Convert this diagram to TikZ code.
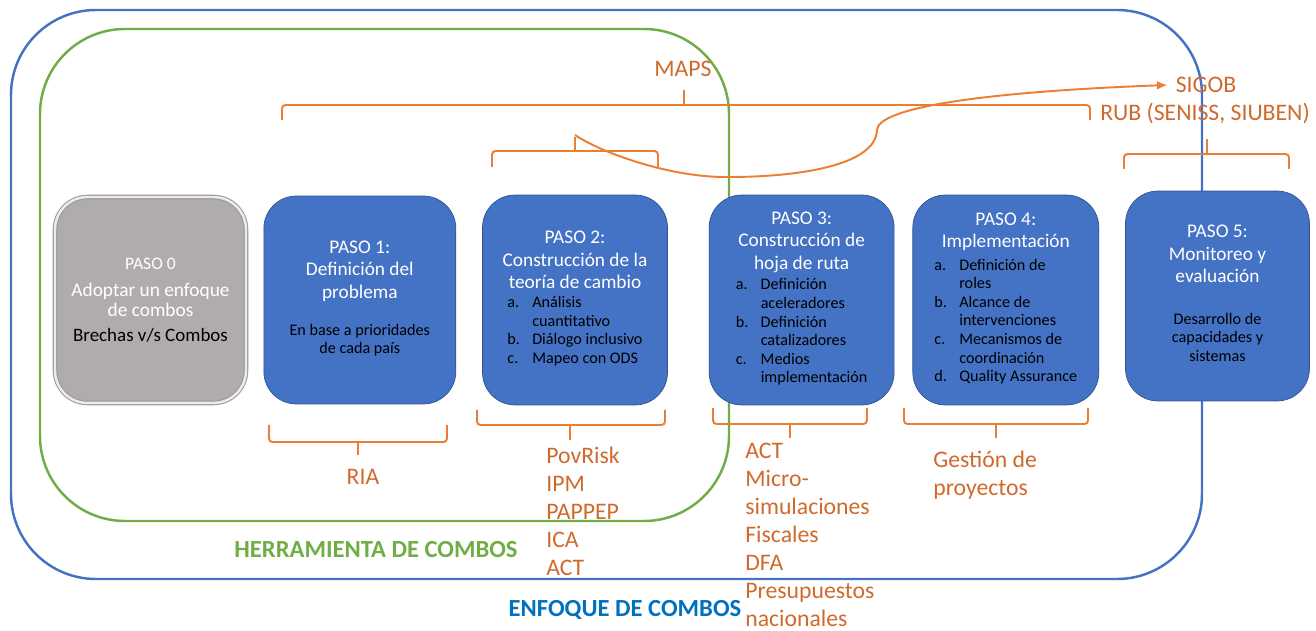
\documentclass[tikz,border=0pt]{standalone}
\usepackage{fontspec}
\setmainfont{Carlito}
\usetikzlibrary{positioning,arrows.meta}
\definecolor{boxblue}{HTML}{4472C4}
\definecolor{boxline}{HTML}{2F528F}
\definecolor{frameblue}{HTML}{4472C4}
\definecolor{framegreen}{HTML}{70AD47}
\definecolor{brline}{HTML}{ED7D31}
\definecolor{brtext}{HTML}{D0692C}
\definecolor{labelblue}{HTML}{0070C0}
\definecolor{stepgray}{HTML}{B0ACAB}
\tikzset{
pasobox/.style={
  rectangle,
  draw=boxline,
  fill=boxblue,
  rounded corners=0.65cm,
  minimum width=3.7cm,
  minimum height=4.2cm,
  align=center,
  text=white,
  font=\fontsize{11}{12.8}\selectfont},
pasogray/.style={
  pasobox,
  fill=stepgray,
  draw=gray!80,
  line width=0.6pt,
  double=gray!15,
  double distance=1.4pt,
  font=\fontsize{10}{11.5}\selectfont},
bracket/.style={draw=brline, line width=1.1pt, rounded corners=2pt},
tool/.style={text=brtext, font=\fontsize{13.5}{15.9}\selectfont, align=left, inner sep=0pt},
frame/.style={draw, line width=1.4pt, rounded corners=1.7cm},
linkcurve/.style={draw=brline, line width=1.1pt, -{Latex[length=6pt,width=5pt]}}
}

\begin{document}
\begin{tikzpicture}[x=0.02cm, y=-0.02cm]
    \useasboundingbox (0,0) rectangle (1316,631);
    \draw[frame, framegreen] (40,29) rectangle (729,521);
    \draw[frame, frameblue] (11,10) rectangle (1202,579);
    \draw[bracket] (269,425) |- (354,442) .. controls (358,442) .. (358,446) -- (358,457) coordinate (t1) -- (358,446) .. controls (358,442) .. (362,442) -| (447,425);
    \draw[bracket] (477,410) |- (566,425) .. controls (570,425) .. (570,429) -- (570,442) coordinate (t2) -- (570,429) .. controls (570,425) .. (574,425) -| (665,410);
    \draw[bracket] (713,408) |- (786,424) .. controls (790,424) .. (790,428) -- (790,440) coordinate (t3) -- (790,428) .. controls (790,424) .. (794,424) -| (867,408);
    \draw[bracket] (904,408) |- (992,424) .. controls (996,424) .. (996,428) -- (996,440) coordinate (t4) -- (996,428) .. controls (996,424) .. (1000,424) -| (1088,408);
    \draw[bracket] (282,120) |- (680,105) .. controls (684,105) .. (684,101) -- (684,88) coordinate (t5) -- (684,101) .. controls (684,105) .. (688,105) -| (1090,120);
    \draw[bracket] (492,167) |- (571,151) .. controls (575,151) .. (575,147) -- (575,135) coordinate (t6) -- (575,147) .. controls (575,151) .. (579,151) -| (658,167);
    \draw[bracket] (1124,169) |- (1203,154) .. controls (1207,154) .. (1207,150) -- (1207,137) coordinate (t7) -- (1207,150) .. controls (1207,154) .. (1211,154) -| (1289,169);
    \node[tool] (maps) at (683,69) {MAPS};
    \node[tool, inner sep=4.5pt] (sigob) at (1206,85) {SIGOB};
    \node[tool] (rub) at (1205,113) {RUB (SENISS, SIUBEN)};
    \draw[linkcurve] (t6) .. controls (600,152) and (670,178) .. (729,177) .. controls (800,177) and (876,165) .. (877,130) .. controls (878,108) and (980,92) .. (sigob.west);
    \node[pasogray, minimum width=3.82cm, minimum height=4.12cm] (p0) at (150.5,300) {PASO 0\\[4pt]\fontsize{11}{12}\selectfont Adoptar un enfoque\\\fontsize{11}{12}\selectfont de combos\\[2.5pt]\color{black}\fontsize{10.8}{12}\selectfont Brechas v/s Combos};
    \node[pasobox, minimum width=3.84cm, minimum height=4.16cm, right=0.34cm of p0] (p1) {PASO 1:\\Definición del\\problema\\[8.5pt]\color{black}\fontsize{9.2}{10.4}\selectfont\begin{tabular}[t]{@{}c@{}}En base a prioridades\\de cada país\end{tabular}};
    \node[pasobox, right=0.52cm of p1] (p2) {PASO 2:\\Construcción de la\\teoría de cambio\\[-2pt]\color{black}\fontsize{9.2}{10.6}\selectfont\begin{tabular}[t]{@{}l@{\hspace{7pt}}l@{}}a.&Análisis\\&cuantitativo\\b.&Diálogo inclusivo\\c.&Mapeo con ODS\end{tabular}};
    \node[pasobox, right=0.82cm of p2] (p3) {PASO 3:\\Construcción de\\hoja de ruta\\[-1pt]\color{black}\fontsize{9.2}{10.6}\selectfont\begin{tabular}[t]{@{}l@{\hspace{7pt}}l@{}}a.&Definición\\&aceleradores\\b.&Definición\\&catalizadores\\c.&Medios\\&implementación\end{tabular}};
    \node[pasobox, minimum width=3.72cm, right=0.36cm of p3] (p4) {PASO 4:\\Implementación\\\color{black}\fontsize{9.2}{10.6}\selectfont\begin{tabular}[t]{@{}l@{\hspace{7pt}}l@{}}a.&Definición de\\&roles\\b.&Alcance de\\&intervenciones\\c.&Mecanismos de\\&coordinación\\d.&Quality Assurance\end{tabular}};
    \node[pasobox, minimum width=3.68cm, right=0.52cm of p4, yshift=0.08cm] (p5) {PASO 5:\\Monitoreo y\\evaluación\\[11pt]\color{black}\fontsize{9.2}{10.4}\selectfont\begin{tabular}[t]{@{}c@{}}Desarrollo de\\capacidades y\\sistemas\end{tabular}};
    \node[tool] (ria) at (363,477) {RIA};
    \node[tool, anchor=west] (povrisk) at (546,511) {PovRisk\\IPM\\PAPPEP\\ICA\\ACT};
    \node[tool, anchor=west] (act) at (745,535) {ACT\\Micro-\\simulaciones\\Fiscales\\DFA\\Presupuestos\\nacionales};
    \node[tool, anchor=west] (gestion) at (933,475) {Gestión de\\proyectos};
    \node[text=framegreen, font=\fontsize{14}{16}\selectfont\bfseries] (herr) at (376,550) {HERRAMIENTA DE COMBOS};
    \node[text=labelblue, font=\fontsize{14}{16}\selectfont\bfseries] (enfoque) at (625,610) {ENFOQUE DE COMBOS};
\end{tikzpicture}
\end{document}
